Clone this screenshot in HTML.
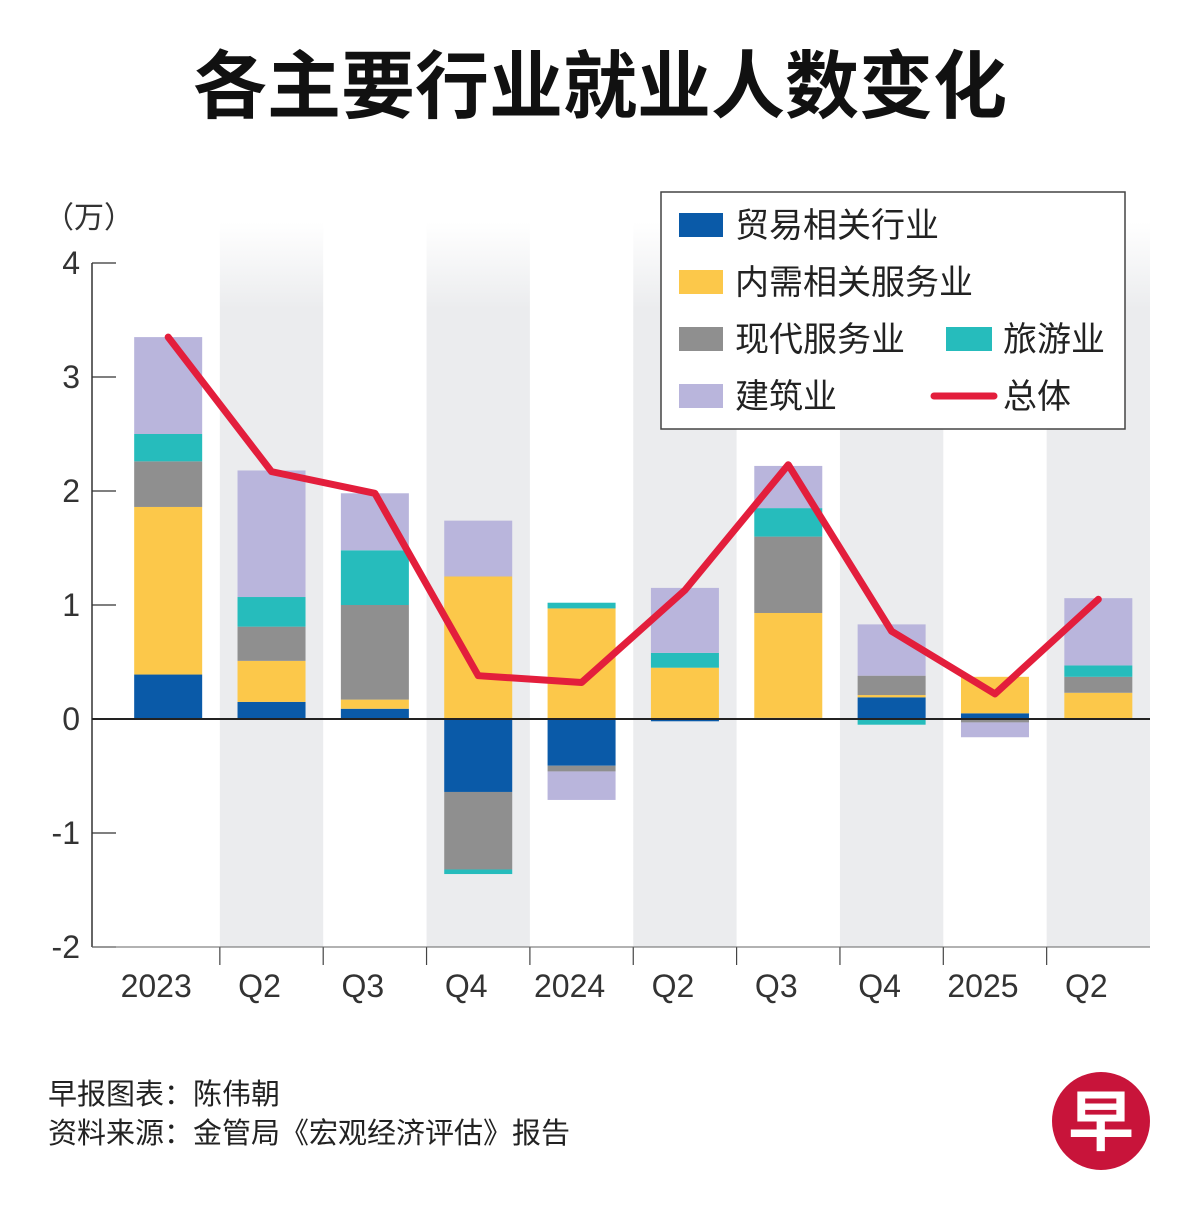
<!DOCTYPE html>
<html><head><meta charset="utf-8"><style>
body{margin:0;background:#fff;width:1200px;height:1220px;overflow:hidden;font-family:"Liberation Sans","Noto Sans CJK SC",sans-serif;}
</style></head><body>
<svg id="c" width="1200" height="1220" xmlns="http://www.w3.org/2000/svg">
<defs><linearGradient id="bandg" x1="0" y1="0" x2="0" y2="1"><stop offset="0" stop-color="#ebecee" stop-opacity="0"/><stop offset="0.12" stop-color="#ebecee" stop-opacity="1"/><stop offset="1" stop-color="#ebecee"/></linearGradient></defs>
<text x="600" y="112" text-anchor="middle" font-size="74" font-weight="bold" fill="#111" font-family="'Noto Sans CJK SC',sans-serif">各主要行业就业人数变化</text>
<text x="44" y="228" font-size="30" fill="#333" font-family="'Noto Sans CJK SC',sans-serif">（万）</text>
<g id="bands"></g><g id="bars"></g><g id="axes"></g><g id="line"></g>
<g>
<rect x="661" y="192" width="464" height="237" fill="#fff" stroke="#444" stroke-width="1.5"/>
<g font-size="34" fill="#222" font-family="'Noto Sans CJK SC',sans-serif">
<rect x="679" y="213" width="44" height="24" fill="#0a5aa8"/><text x="735" y="237">贸易相关行业</text>
<rect x="679" y="270" width="44" height="24" fill="#fcc84a"/><text x="735" y="294">内需相关服务业</text>
<rect x="679" y="327" width="44" height="24" fill="#8f8f8f"/><text x="735" y="351">现代服务业</text>
<rect x="946" y="327" width="46" height="24" fill="#26bcbc"/><text x="1003" y="351">旅游业</text>
<rect x="679" y="384" width="44" height="24" fill="#b9b5dc"/><text x="735" y="408">建筑业</text>
<line x1="934" y1="396" x2="994" y2="396" stroke="#e31e3c" stroke-width="7" stroke-linecap="round"/><text x="1003" y="408">总体</text>
</g></g>
<g font-size="29" fill="#222" font-family="'Noto Sans CJK SC',sans-serif">
<text x="48" y="1104">早报图表：陈伟朝</text>
<text x="48" y="1143">资料来源：金管局《宏观经济评估》报告</text>
</g>
<g><circle cx="1101" cy="1121" r="49" fill="#c8143a"/><text x="1101" y="1145" text-anchor="middle" font-size="66" font-weight="bold" fill="#fff" font-family="'Noto Sans CJK SC',sans-serif">早</text></g>
</svg>
<script>
const categories=["2023","Q2","Q3","Q4","2024","Q2","Q3","Q4","2025","Q2"];
const trade=[0.39,0.15,0.09,-0.64,-0.41,-0.02,0.01,0.19,0.05,0];
const domestic=[1.47,0.36,0.08,1.25,0.97,0.45,0.92,0.02,0.32,0.23];
const modern=[0.40,0.30,0.83,-0.68,-0.05,0,0.67,0.17,-0.03,0.14];
const tourism=[0.24,0.26,0.48,-0.04,0.05,0.13,0.25,-0.05,0,0.10];
const construction=[0.85,1.11,0.50,0.49,-0.25,0.57,0.37,0.45,-0.13,0.59];
const total=[3.35,2.17,1.98,0.38,0.32,1.13,2.23,0.77,0.22,1.05];
const yTicks=[-2,-1,0,1,2,3,4];
const NS="http://www.w3.org/2000/svg";
const left=116.5,bw=103.35,axisX=92;
const x=i=>left+bw*i+bw/2;
const y=v=>719-v*114;
function mk(t,a,p){const e=document.createElementNS(NS,t);for(const k in a)e.setAttribute(k,a[k]);document.getElementById(p).appendChild(e);return e;}
categories.forEach((c,i)=>{if(i%2==1){const r=mk('rect',{x:left+bw*i,y:222,width:bw,height:947-222,fill:'url(#bandg)'},'bands');

}});
const series=[[trade,'#0a5aa8','trade'],[domestic,'#fcc84a','domestic'],[modern,'#8f8f8f','modern'],[tourism,'#26bcbc','tourism'],[construction,'#b9b5dc','construction']];
categories.forEach((c,i)=>{let pos=0,neg=0;series.forEach(s=>{const v=s[0][i];if(!v)return;let y0,y1;if(v>0){y0=pos;pos+=v;y1=pos;}else{y0=neg;neg+=v;y1=neg;}
const r=mk('rect',{x:x(i)-34,y:Math.min(y(y0),y(y1)),width:68,height:Math.abs(y(y1)-y(y0)),fill:s[1]},'bars');

});
const t=mk('text',{x:x(i)-12,y:997,'text-anchor':'middle','font-size':32,fill:'#333'},'axes');t.textContent=c;


if(i>0){const tk=mk('line',{x1:left+bw*i,x2:left+bw*i,y1:947,y2:965,stroke:'#444','stroke-width':1.2},'axes');

}});
yTicks.forEach(v=>{const l=mk('line',{x1:axisX,x2:116,y1:y(v),y2:y(v),stroke:'#333','stroke-width':1.2},'axes');


const t=mk('text',{x:80,y:y(v)+11,'text-anchor':'end','font-size':32,fill:'#333'},'axes');t.textContent=v;

});
const ax=mk('line',{x1:axisX,x2:axisX,y1:263,y2:947,stroke:'#333','stroke-width':1.5},'axes');


const bx=mk('line',{x1:axisX,x2:1150,y1:947,y2:947,stroke:'#666','stroke-width':1},'axes');


const z=mk('line',{x1:axisX,x2:1150,y1:y(0),y2:y(0),stroke:'#222','stroke-width':2},'axes');


const pl=mk('polyline',{points:total.map((v,i)=>x(i)+','+y(v)).join(' '),fill:'none',stroke:'#e31e3c','stroke-width':7,'stroke-linejoin':'round','stroke-linecap':'round'},'line');


</script>
</body></html>
